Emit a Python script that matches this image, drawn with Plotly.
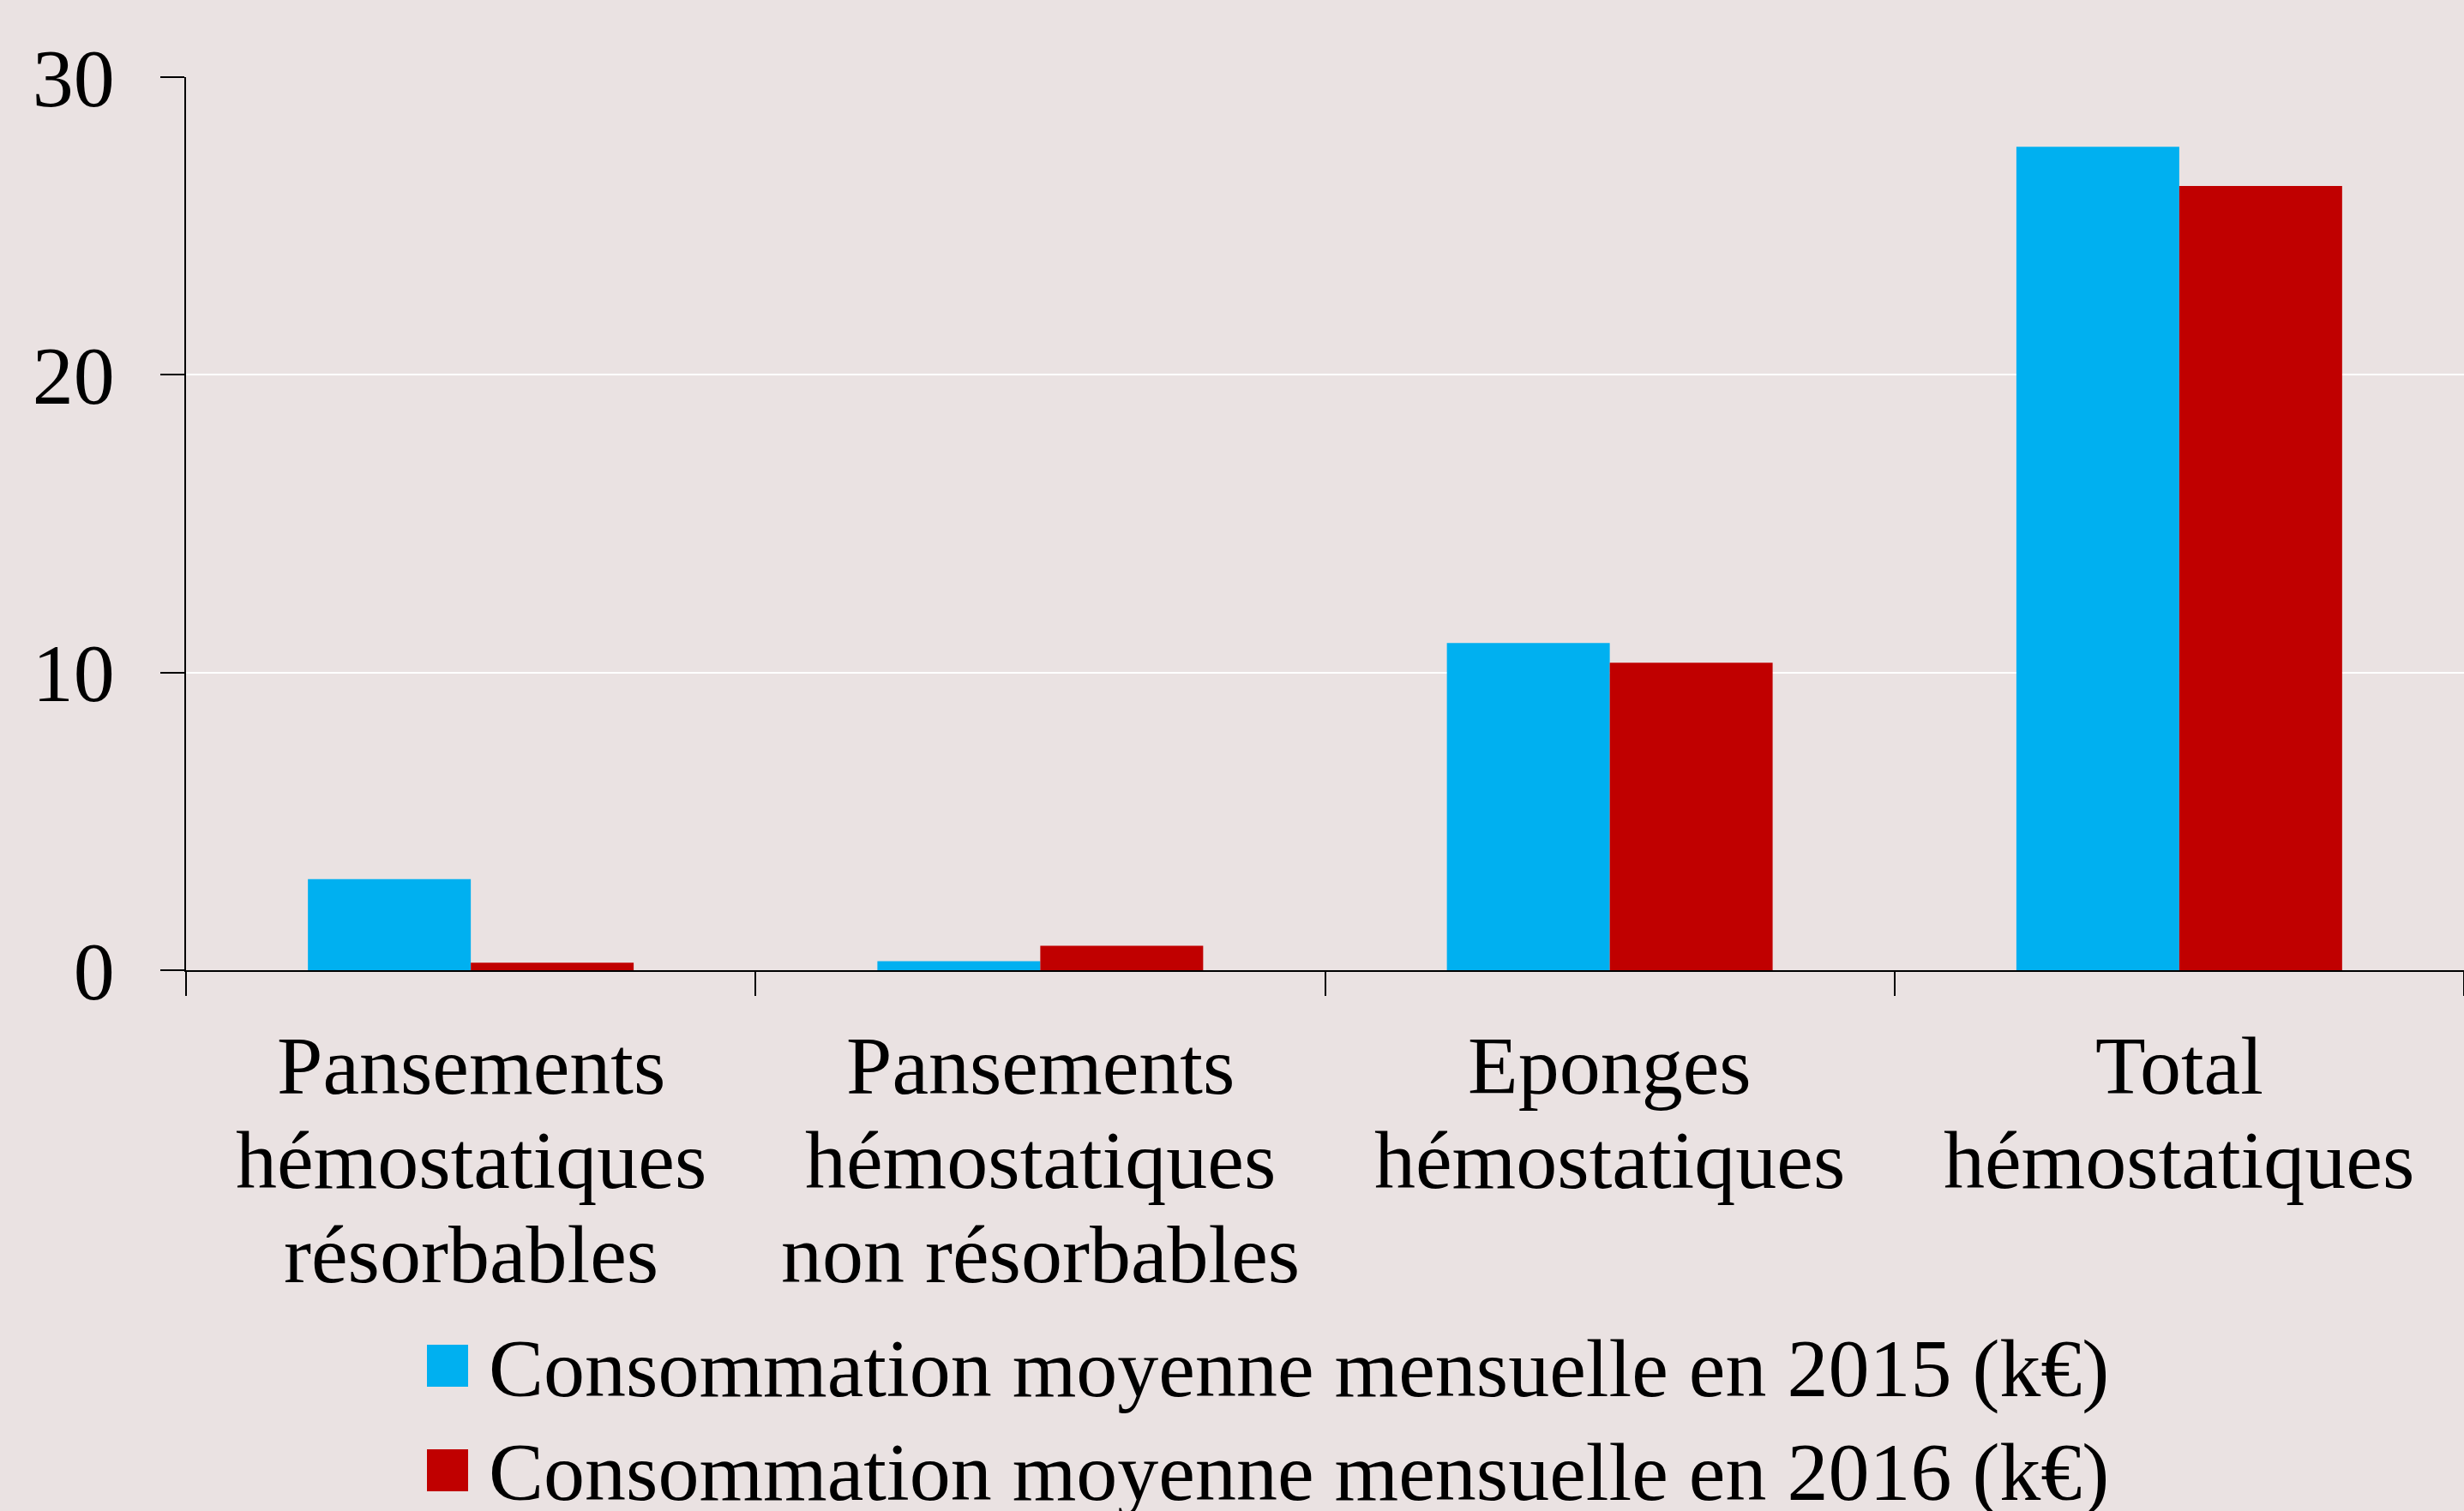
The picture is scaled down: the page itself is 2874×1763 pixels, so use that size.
import plotly.graph_objects as go

# ---- data ----
category_lines = [
    ["Pansements", "hémostatiques", "résorbables"],
    ["Pansements", "hémostatiques", "non résorbables"],
    ["Eponges", "hémostatiques"],
    ["Total", "hémostatiques"],
]
categories = [" ".join(lines) for lines in category_lines]
series_2015 = [3.06, 0.30, 10.99, 27.66]
series_2016 = [0.25, 0.82, 10.33, 26.34]
name_2015 = "Consommation moyenne mensuelle en 2015 (k€)"
name_2016 = "Consommation moyenne mensuelle en 2016 (k€)"
y_ticks = [0, 10, 20, 30]

# ---- style ----
BG = "#EAE2E2"
FONT = "Liberation Serif"
C2015 = "#00B0F0"
C2016 = "#C00000"
W, H = 2874, 1763
L, R, T, B = 217, 0, 90, 631
PW, PH = W - L - R, H - T - B


def px_x(px):
    return (px - L) / PW


def px_y(py):
    return (H - B - py) / PH


fig = go.Figure()
fig.add_trace(go.Bar(x=categories, y=series_2015, name=name_2015,
                     marker=dict(color=C2015, line=dict(width=0))))
fig.add_trace(go.Bar(x=categories, y=series_2016, name=name_2016,
                     marker=dict(color=C2016, line=dict(width=0))))

# category labels, one annotation per line for tight line spacing
XLAB_SIZE = 96
annotations = []
for cat, lines in zip(categories, category_lines):
    for i, line in enumerate(lines):
        annotations.append(dict(
            x=cat, xref="x", y=px_y(1243 + i * 110), yref="paper",
            text=line, showarrow=False, xanchor="center", yanchor="middle",
            font=dict(family=FONT, size=XLAB_SIZE, color="black"),
        ))

# legend (custom, to get large swatches)
LEG_SIZE = 96
shapes = []
for i, (name, col) in enumerate([(name_2015, C2015), (name_2016, C2016)]):
    top = 1569 + i * 122
    shapes.append(dict(type="rect", xref="paper", yref="paper",
                       x0=px_x(498), x1=px_x(546), y0=px_y(top), y1=px_y(top + 49),
                       fillcolor=col, line=dict(width=0)))
    annotations.append(dict(
        x=px_x(568), xref="paper", y=px_y(1596 + i * 122), yref="paper",
        text=name, showarrow=False, xanchor="left", yanchor="middle",
        font=dict(family=FONT, size=LEG_SIZE, color="black"),
    ))

fig.update_layout(
    width=W, height=H,
    paper_bgcolor=BG, plot_bgcolor=BG,
    margin=dict(l=L, r=R, t=T, b=B, pad=0),
    barmode="group", bargap=0.428, bargroupgap=0,
    font=dict(family=FONT, color="black", size=90),
    showlegend=False,
    annotations=annotations,
    shapes=shapes,
)
fig.update_xaxes(
    showline=True, linecolor="black", linewidth=2,
    ticks="outside", tickson="boundaries", ticklen=28, tickcolor="black", tickwidth=2,
    showticklabels=False, showgrid=False, automargin=False,
)
fig.update_yaxes(
    range=[0, 30], tickvals=y_ticks,
    showline=True, linecolor="black", linewidth=2,
    ticks="outside", ticklen=28, tickcolor="black", tickwidth=2,
    tickfont=dict(family=FONT, size=96, color="black"),
    showgrid=True, gridcolor="white", gridwidth=2,
    zeroline=False, ticklabelstandoff=34, automargin=False,
)

fig.write_html("out.html",
               config={"displayModeBar": False},
               post_script="document.body.style.margin='0px';document.body.style.overflow='hidden';")
